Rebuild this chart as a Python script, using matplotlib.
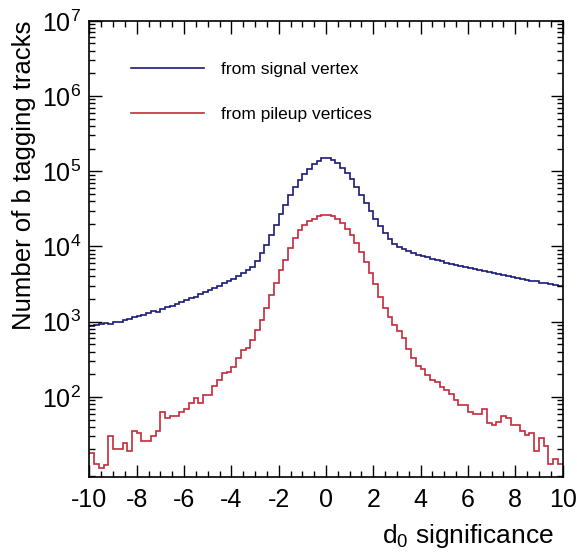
import numpy as np
import matplotlib.pyplot as plt
from matplotlib.ticker import MultipleLocator, LogLocator, FixedLocator, NullFormatter

plt.rcParams['font.family'] = ['Liberation Sans', 'DejaVu Sans']
plt.rcParams['mathtext.default'] = 'regular'
plt.rcParams['axes.unicode_minus'] = False

# d0 significance histogram, 100 bins over [-10, 10]
x_min, x_max, n_bins = -10, 10, 100

signal_counts = [
    880, 900, 920, 960, 930, 990, 1000, 1060, 1100, 1140,
    1200, 1240, 1300, 1370, 1330, 1480, 1550, 1640, 1720, 1820,
    1930, 2050, 2150, 2300, 2450, 2600, 2800, 3000, 3250, 3450,
    3700, 4000, 4400, 4800, 5400, 6500, 8100, 10500, 14000, 19500,
    27000, 36000, 48000, 61000, 76000, 92000, 108000, 124000, 138000, 148000,
    149000, 142000, 128000, 112000, 95000, 78000, 62000, 49000, 38000, 30000,
    23500, 18500, 15000, 12500, 10800, 9800, 9200, 8700, 8200, 7800,
    7500, 7200, 6900, 6600, 6350, 6100, 5900, 5700, 5500, 5350,
    5200, 5050, 4900, 4750, 4600, 4450, 4300, 4150, 4000, 3900,
    3800, 3700, 3600, 3450, 3500, 3300, 3250, 3150, 3100, 3000,
]

pileup_counts = [
    18, 13, 11.5, 12.5, 30, 20, 20, 24, 19, 35,
    33, 26, 26, 30, 35, 63, 52, 55, 55, 63,
    70, 83, 96, 83, 107, 107, 138, 168, 207, 215,
    250, 325, 420, 440, 575, 780, 1050, 1500, 2280, 3250,
    4800, 6600, 9500, 13000, 16500, 19000, 21500, 23500, 25500, 26500,
    26500, 25500, 23500, 20500, 17000, 14000, 11000, 8500, 6300, 4500,
    3200, 2150, 1500, 1150, 900, 760, 600, 430, 330, 260,
    235, 195, 170, 160, 135, 125, 110, 90, 78, 78,
    62, 60, 60, 70, 45, 42, 47, 55, 52, 42,
    42, 35, 31, 33, 19, 28, 22, 13, 15, 13,
]

series_labels = ['from signal vertex', 'from pileup vertices']
series_colors = ['#1a1a78', '#c42a3a']
y_major = [1e2, 1e3, 1e4, 1e5, 1e6, 1e7]

edges = np.linspace(x_min, x_max, n_bins + 1)

fig = plt.figure(figsize=(5.77, 5.55), dpi=100)
ax = fig.add_axes([0.155, 0.1405, 0.82, 0.822])

for counts, label, color in zip([signal_counts, pileup_counts], series_labels, series_colors):
    ax.stairs(counts, edges, baseline=None, color=color, linewidth=1.2, label=label)

ax.set_yscale('log')
ax.set_xlim(x_min, x_max)
ax.set_ylim(8.6, 1e7)

ax.xaxis.set_major_locator(MultipleLocator(2))
ax.xaxis.set_minor_locator(MultipleLocator(0.5))
ax.yaxis.set_major_locator(FixedLocator(y_major))
ax.yaxis.set_minor_locator(LogLocator(base=10, subs=np.arange(2, 10), numticks=20))
ax.yaxis.set_minor_formatter(NullFormatter())

ax.tick_params(which='both', direction='in', top=True, right=True, width=1.0)
ax.tick_params(which='major', length=9)
ax.tick_params(which='minor', length=4.5)
ax.tick_params(axis='x', labelsize=18, pad=8)
ax.tick_params(axis='y', labelsize=18, pad=6)
for spine in ax.spines.values():
    spine.set_linewidth(1.2)

ax.set_ylabel('Number of b tagging tracks', fontsize=18.5, loc='top', labelpad=4)
fig.text(0.96, 0.022, 'd$_{0}$ significance', fontsize=19, ha='right', va='baseline')

ax.legend(loc='upper left', bbox_to_anchor=(0.055, 0.945), frameon=False,
          fontsize=12.5, handlelength=4.2, handletextpad=1.0, labelspacing=1.75)

fig.savefig('out.png', dpi=100, facecolor='white')
